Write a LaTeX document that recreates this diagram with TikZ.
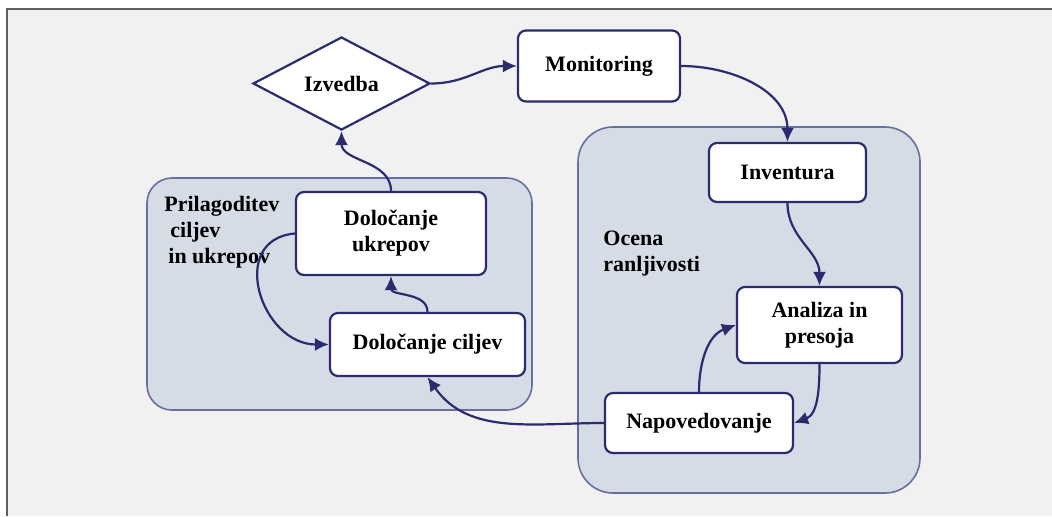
\documentclass[tikz,border=0pt]{standalone}
\usepackage{fontspec}
\setmainfont{Liberation Serif}
\usetikzlibrary{shapes.geometric,arrows.meta}

\definecolor{panel}{HTML}{F1F1F1}
\definecolor{frame}{HTML}{5E5E5E}
\definecolor{grpfill}{HTML}{D5DCE5}
\definecolor{grpline}{HTML}{6A6E9E}
\definecolor{navy}{HTML}{2A2C6E}

\tikzset{
  box/.style={draw=navy, line width=1.1pt, fill=white, rounded corners=4pt, align=center,
    font=\bfseries\fontsize{11}{13}\selectfont, inner sep=2pt},
  grp/.style={draw=grpline, line width=0.8pt, fill=grpfill},
  flow/.style={->, draw=navy, line width=1.1pt},
  >={Latex[length=7pt,width=6.5pt]}
}

\begin{document}
\begin{tikzpicture}[x=0.5pt,y=-0.5pt]
\useasboundingbox (0,0) rectangle (1052,516);
\fill [panel] (7,9) rectangle (1052,516);
\draw [frame, line width=0.9pt] (7,516) -- (7,9) -- (1052,9);

\node (adapt) at (339.5,294) [grp, rounded corners=12.5pt, minimum width=192.5pt, minimum height=116pt]{};
\node (vuln) at (749,310) [grp, rounded corners=17.5pt, minimum width=171pt, minimum height=183pt]{};

\node (adapt-t) at (164,196) [anchor=north west, inner sep=0pt, align=left, font=\bfseries\fontsize{11}{13}\selectfont]{Prilagoditev\\\hspace{3pt}ciljev\\\hspace{2pt}in ukrepov};
\node (vuln-t) at (603,231) [anchor=north west, inner sep=0pt, align=left, font=\bfseries\fontsize{11}{13}\selectfont]{Ocena\\ranljivosti};

\node (izv) at (341.5,83.5) [diamond, draw=navy, line width=1.1pt, fill=white, inner sep=0pt,
  minimum width=88.5pt, minimum height=46.5pt, font=\bfseries\fontsize{11}{13}\selectfont]{Izvedba};
\node (mon) at (599,66) [box, minimum width=81pt, minimum height=35.5pt]{Monitoring};
\node (inv) at (787.5,172.5) [box, minimum width=78.5pt, minimum height=29.5pt]{Inventura};
\node (ana) at (819.5,325) [box, minimum width=82.5pt, minimum height=38pt]{Analiza in\\presoja};
\node (nap) at (699,423) [box, minimum width=94pt, minimum height=30pt]{Napovedovanje};
\node (ukr) at (391,233.5) [box, minimum width=95pt, minimum height=41.5pt]{Določanje\\ukrepov};
\node (cil) at (427.5,344.5) [box, minimum width=97.5pt, minimum height=31.5pt]{Določanje ciljev};

\draw [flow] (izv.east) to[out=0,in=180] (mon.west);
\draw [flow] (mon.east) to[out=0,in=90] (inv.north);
\draw [flow] (inv.south) to[out=-90,in=90] (ana.north);
\draw [flow] (ana.south) to[out=-90,in=20] (nap.east);
\draw [flow] (nap.north) to[out=90,in=200] (ana.west);
\draw [flow] (nap.west) to[out=180,in=-55] (cil.south);
\draw [flow] (cil.north) to[out=90,in=-90] (ukr.south);
\draw [flow] (ukr.west) to[out=185,in=180,looseness=1.5] (cil.west);
\draw [flow] (ukr.north) to[out=90,in=-90] (izv.south);

\end{tikzpicture}
\end{document}
